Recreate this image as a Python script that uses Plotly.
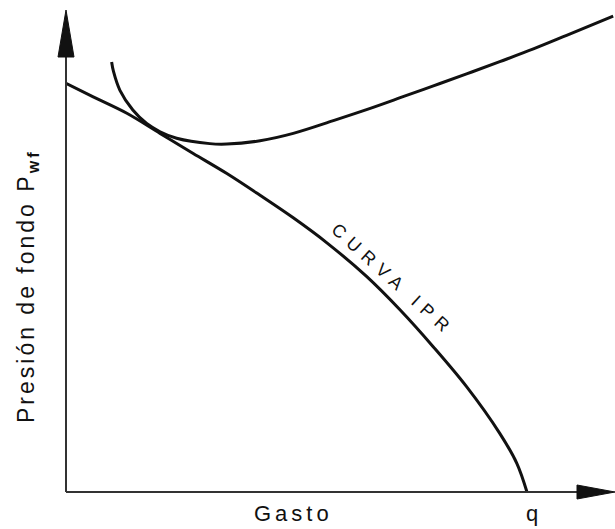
import plotly.graph_objects as go

# Inflow performance (IPR) curve: rate vs bottom-hole flowing pressure
ipr_q = [0, 5.9, 13.2, 20.4, 27.6, 34.9, 42.1, 49.3, 56.6, 65.2, 72.5, 79.7, 86.9, 94.1, 97.8, 100]
ipr_p = [99.7, 96.4, 92.4, 87.5, 82.6, 77.7, 72.4, 66.9, 60.8, 52.6, 44.4, 35.4, 25.7, 14.3, 7.0, 0]

# Outflow (tubing) curve: required bottom-hole pressure vs rate
out_q = [9.9, 10.3, 11.7, 14.5, 17.5, 20.4, 24.0, 31.2, 34.9, 42.1, 49.3, 58.0, 65.2, 72.5, 79.7,
         86.9, 94.1, 101.4, 108.6, 118.7]
out_p = [104.9, 102.6, 98.0, 93.2, 89.9, 87.9, 86.3, 85.0, 84.9, 85.7, 87.5, 90.6, 93.3, 96.2, 99.1,
         102.0, 105.0, 108.1, 111.4, 116.1]

x_range = [0, 119.1]
y_range = [0, 117.6]

W, H = 615, 529
M = dict(l=66, r=0, t=10, b=37)
PW = W - M["l"] - M["r"]
PH = H - M["t"] - M["b"]

FONT = "Liberation Sans"
INK = "#111111"


def px_x(dx):
    return dx / PW


def px_y(dy):
    return dy / PH


def spaced(text, spacing):
    return f'<span style="letter-spacing:{spacing}px">{text}</span>'


fig = go.Figure()
fig.add_trace(go.Scatter(x=ipr_q, y=ipr_p, mode="lines",
                         line=dict(color=INK, width=3, shape="spline", smoothing=1.0),
                         hoverinfo="skip", showlegend=False))
fig.add_trace(go.Scatter(x=out_q, y=out_p, mode="lines",
                         line=dict(color=INK, width=3, shape="spline", smoothing=1.0),
                         hoverinfo="skip", showlegend=False))

shapes = [
    # vertical axis with arrowhead
    dict(type="line", xref="paper", yref="paper", x0=0, y0=0, x1=0, y1=1 - px_y(40),
         line=dict(color="#333333", width=2)),
    dict(type="path", xref="paper", yref="paper",
         path=f"M 0 1 L {-px_x(8)} {1 - px_y(47)} L {px_x(8)} {1 - px_y(47)} Z",
         fillcolor=INK, line=dict(color=INK, width=1)),
    # horizontal axis with arrowhead
    dict(type="line", xref="paper", yref="paper", x0=0, y0=0, x1=1 - px_x(32), y1=0,
         line=dict(color="#333333", width=2)),
    dict(type="path", xref="paper", yref="paper",
         path=f"M 1 0 L {1 - px_x(38)} {px_y(7)} L {1 - px_x(38)} {-px_y(7)} Z",
         fillcolor=INK, line=dict(color=INK, width=1)),
]

annotations = [
    dict(text=spaced("Gasto", 4), xref="paper", yref="paper",
         x=px_x(227), y=-px_y(21), xanchor="center", yanchor="middle", showarrow=False,
         font=dict(family=FONT, size=22, color=INK)),
    dict(text="q", xref="x", yref="paper", x=ipr_q[-1] + 1, y=-px_y(21), xanchor="center",
         yanchor="middle", showarrow=False, font=dict(family=FONT, size=22, color=INK)),
    dict(text=spaced("Presión de fondo P<sub><b>wf</b></sub>", 3),
         xref="paper", yref="paper", x=-px_x(39), y=px_y(206), xanchor="center", yanchor="middle",
         textangle=-90, showarrow=False, font=dict(family=FONT, size=23, color=INK)),
    dict(text=spaced("CURVA IPR", 7), xref="x", yref="y",
         x=71.0, y=51.8, xanchor="center", yanchor="middle", textangle=42, showarrow=False,
         font=dict(family=FONT, size=18, color=INK)),
]

fig.update_layout(
    width=W, height=H, margin=M,
    paper_bgcolor="white", plot_bgcolor="white",
    xaxis=dict(range=x_range, visible=False, fixedrange=True),
    yaxis=dict(range=y_range, visible=False, fixedrange=True),
    shapes=shapes, annotations=annotations,
)

fig.write_html("out.html")
